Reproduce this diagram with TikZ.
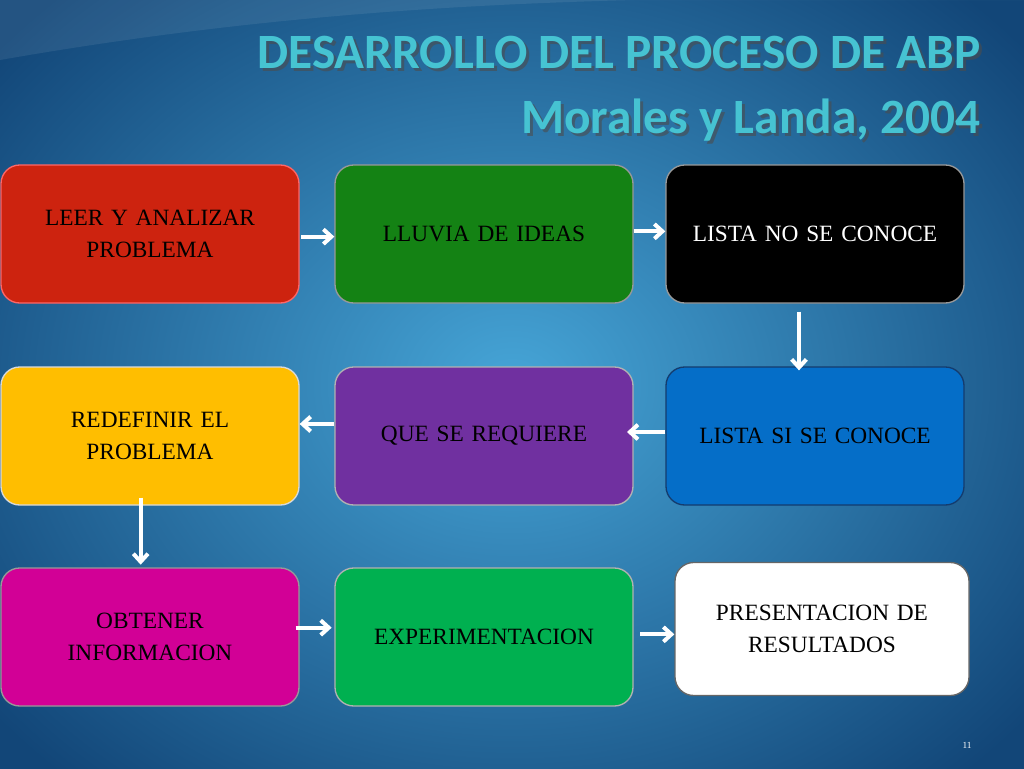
\documentclass[tikz,border=0pt]{standalone}
\usepackage{fontspec}
\setmainfont{Liberation Serif}
\newfontfamily\titlefont{Carlito}
\usetikzlibrary{arrows.meta}
\definecolor{bgin}{RGB}{70,165,215}
\definecolor{bgout}{RGB}{18,70,120}
\definecolor{ttl}{RGB}{70,195,210}
\definecolor{cred}{RGB}{205,35,15}
\definecolor{cgreen}{RGB}{20,130,20}
\definecolor{cyel}{RGB}{255,190,0}
\definecolor{cpur}{RGB}{112,48,160}
\definecolor{cblue}{RGB}{5,110,200}
\definecolor{cblueb}{RGB}{20,60,110}
\definecolor{cmag}{RGB}{210,0,150}
\definecolor{cgr2}{RGB}{0,176,80}
\tikzset{
 box/.style={rounded corners=14pt,minimum width=298pt*0.75,minimum height=138pt*0.75,draw=#1,line width=1pt,align=center,font=\fontsize{17.5}{24}\selectfont,text width=205pt},
 arr/.style={white,line width=3pt,-{Straight Barb[length=6pt,width=11pt]}},
 ttlstyle/.style={font=\titlefont\bfseries\fontsize{37}{40}\selectfont,anchor=east}
}
\begin{document}
\begin{tikzpicture}[x=0.75pt,y=-0.75pt]
\useasboundingbox (0,0) rectangle (1024,768);
\shade[inner color=bgin,outer color=bgout] (-150,-150) rectangle (1174,918);
\fill[white,opacity=0.08] (0,60) .. controls (400,-10) and (700,0) .. (1024,-5) -- (1024,0) -- (0,0) -- cycle;
\node[ttlstyle,text=black!70,opacity=0.6] (s1) at (988,55) {DESARROLLO DEL PROCESO DE ABP};
\node[ttlstyle,text=black!70,opacity=0.6] (s2) at (988,123) {Morales y Landa, 2004};
\node[ttlstyle,text=ttl] (t1) at (985,52) {DESARROLLO DEL PROCESO DE ABP};
\node[ttlstyle,text=ttl] (t2) at (985,120) {Morales y Landa, 2004};
\node[box=red!60!white,fill=cred] (a) at (150,234) {LEER Y ANALIZAR\\PROBLEMA};
\node[box=black!40,fill=cgreen] (b) at (484,234) {LLUVIA DE IDEAS};
\node[box=black!40,fill=black,text=white] (c) at (815,234) {LISTA NO SE CONOCE};
\node[box=white!70!gray,fill=cyel] (d) at (150,436) {REDEFINIR EL\\PROBLEMA};
\node[box=black!30,fill=cpur] (e) at (484,436) {QUE SE REQUIERE};
\node[box=cblueb,fill=cblue] (f) at (815,436) {LISTA SI SE CONOCE};
\node[box=black!40,fill=cmag] (g) at (150,637) {OBTENER\\INFORMACION};
\node[box=black!30,fill=cgr2] (h) at (484,637) {EXPERIMENTACION};
\node[box=black!60,fill=white,minimum width=294pt*0.75,minimum height=133pt*0.75] (i) at (822,629) {PRESENTACION DE\\RESULTADOS};
\draw[arr] ([xshift=1pt,yshift=-2pt]a.east) -- ([yshift=-2pt]b.west);
\draw[arr] ([yshift=2pt]b.east) -- ([yshift=2pt]c.west);
\draw[arr] ([xshift=-12pt,yshift=-6pt]c.south) -- ([xshift=-12pt,yshift=-3pt]f.north);
\draw[arr] ([yshift=9pt]e.west) -- ([yshift=9pt]d.east);
\draw[arr] ([yshift=3pt]f.west) -- ([yshift=3pt,xshift=-5pt]e.east);
\draw[arr] ([xshift=-7pt,yshift=6pt]d.south) -- ([xshift=-7pt,yshift=2pt]g.north);
\draw[arr] ([yshift=7pt,xshift=-3pt]g.east) -- ([yshift=7pt,xshift=-2pt]h.west);
\draw[arr] ([yshift=2pt,xshift=5pt]h.east) -- ([yshift=2pt]h.east -| i.west);
\node[white,font=\scriptsize] (n) at (967,745) {11};
\end{tikzpicture}
\end{document}
